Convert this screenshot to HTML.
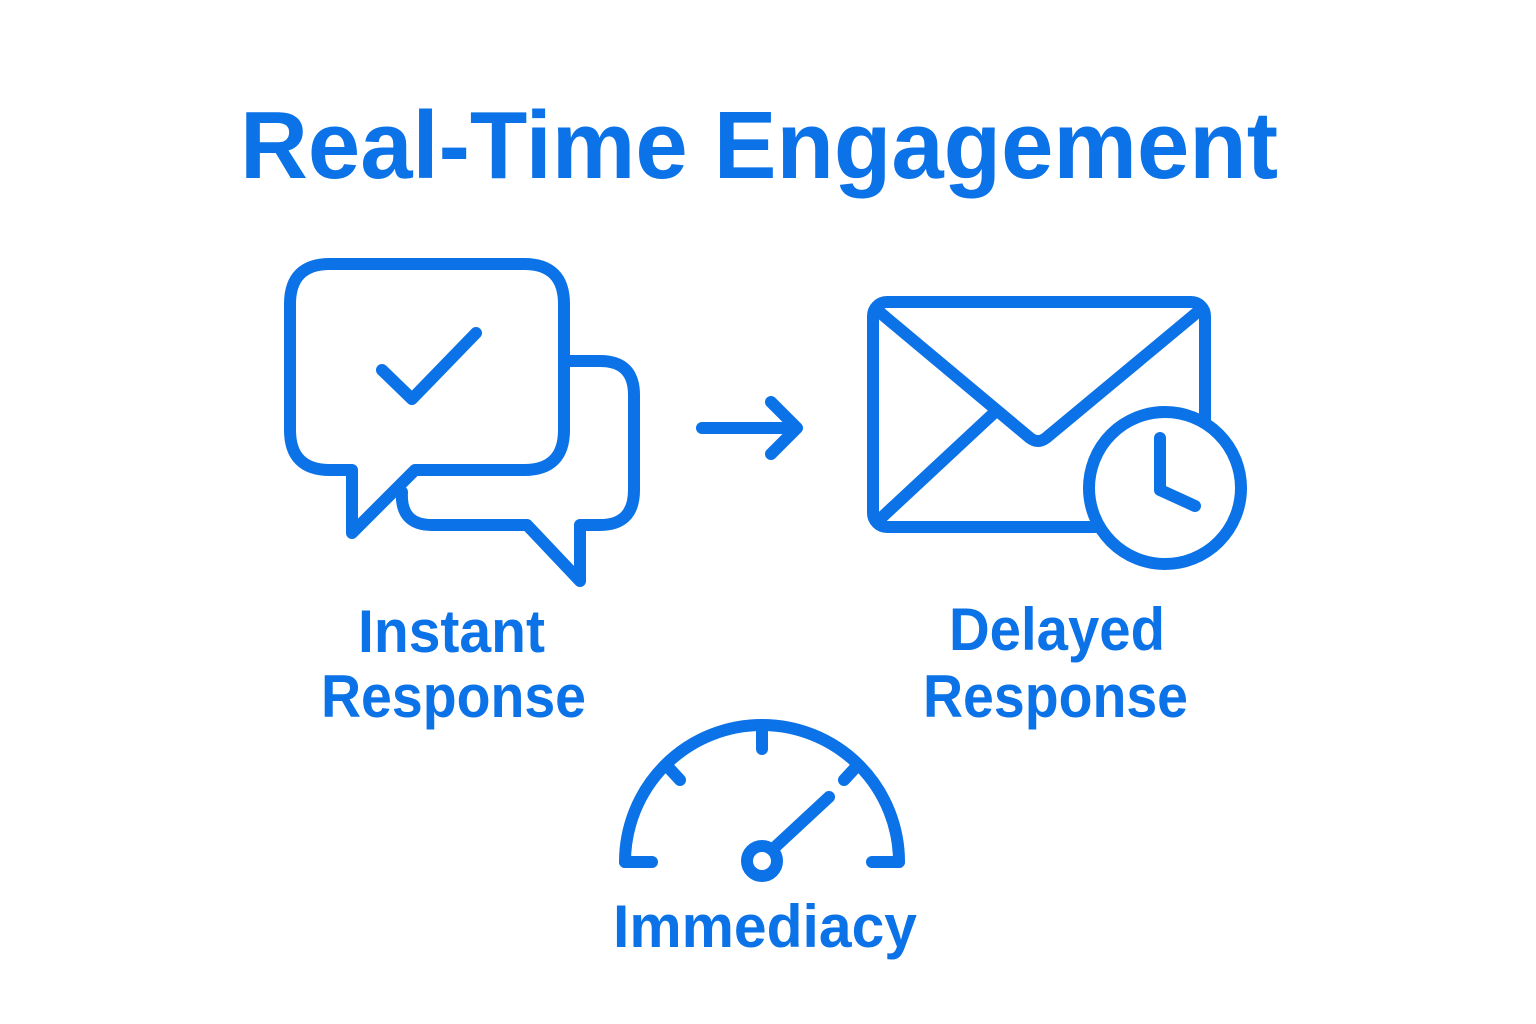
<!DOCTYPE html>
<html><head><meta charset="utf-8"><style>
html,body{margin:0;padding:0;background:#fff;}
svg{display:block;}
text{font-family:"Liberation Sans",sans-serif;font-weight:bold;fill:#0b72e7;}
</style></head><body>
<svg width="1536" height="1024" viewBox="0 0 1536 1024" xmlns="http://www.w3.org/2000/svg">
<rect width="1536" height="1024" fill="#fff"/>
<text x="240" y="178" font-size="96" textLength="1038" lengthAdjust="spacingAndGlyphs">Real-Time Engagement</text>
<g fill="none" stroke="#0b72e7" stroke-width="12" stroke-linecap="round" stroke-linejoin="round">
<path d="M330,264 H524 Q564,264 564,304 V430 Q564,470 524,470 H415 L352,533 V470 H330 Q290,470 290,430 V304 Q290,264 330,264 Z"/>
<path d="M566,361 H600 Q634,361 634,395 V490 Q634,525 600,525 H580 V581 L527,525 H432 Q400,525 402,492"/>
<path d="M382,370 L412,399 L476,333"/>
<path d="M702,428 H797 M771,402 L797,428 L771,454"/>
<rect x="873" y="302" width="332" height="225" rx="14"/>
<path d="M877,310 L1030,438 Q1038,444 1046,438 L1200,310"/>
<path d="M879,520 L995,412"/>
<circle cx="1165" cy="488" r="76" fill="#fff"/>
<path d="M1160,438 V490 L1195,506"/>
<path d="M625,862 A137,137 0 0 1 899,862"/>
<path d="M625,862 H652 M899,862 H872 M762,730 V749 M668,767 L680,780 M856,767 L844,780 M773,849 L829,797"/>
<circle cx="762" cy="861" r="15"/>
</g>
<text x="358" y="652" font-size="60" textLength="187" lengthAdjust="spacingAndGlyphs">Instant</text>
<text x="321" y="717" font-size="60" textLength="265" lengthAdjust="spacingAndGlyphs">Response</text>
<text x="949" y="650" font-size="60" textLength="216" lengthAdjust="spacingAndGlyphs">Delayed</text>
<text x="923" y="717" font-size="60" textLength="265" lengthAdjust="spacingAndGlyphs">Response</text>
<text x="613" y="947" font-size="60" textLength="304" lengthAdjust="spacingAndGlyphs">Immediacy</text>
</svg>
</body></html>
